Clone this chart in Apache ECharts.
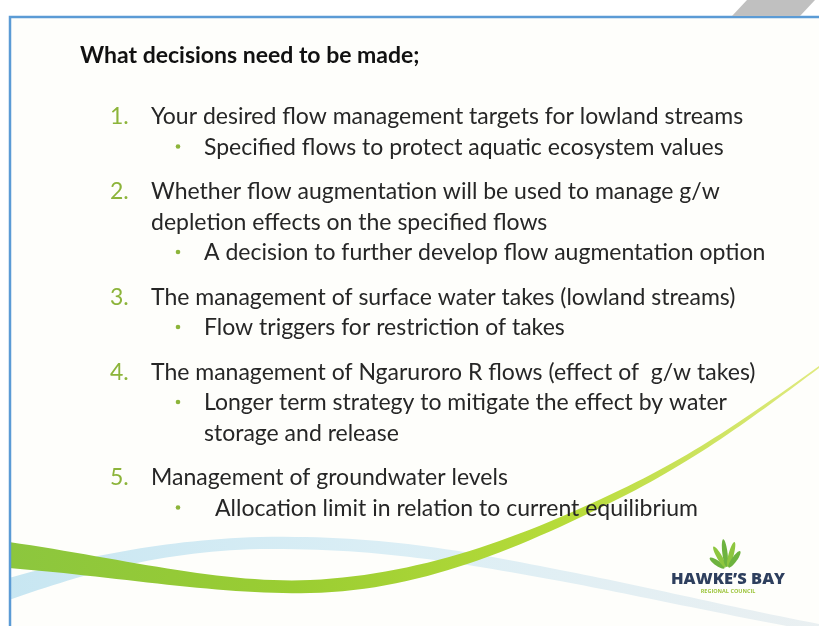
<!DOCTYPE html>
<html>
<head>
<meta charset="utf-8">
<script src="https://cdn.jsdelivr.net/npm/echarts@6/dist/echarts.min.js"></script>
<style>html,body{margin:0;padding:0;background:#fff}#c{width:819px;height:626px}</style>
</head>
<body>
<div id="c"></div>
<script>
// ---- slide content ----
const title = "What decisions need to be made;";
const numbers = ["1.", "2.", "3.", "4.", "5."];
const headings = [
  ["Your desired flow management targets for lowland streams"],
  ["Whether flow augmentation will be used to manage g/w", "depletion effects on the specified flows"],
  ["The management of surface water takes (lowland streams)"],
  ["The management of Ngaruroro R flows (effect of  g/w takes)"],
  ["Management of groundwater levels"]
];
const bullets = [
  ["Specified flows to protect aquatic ecosystem values"],
  ["A decision to further develop flow augmentation option"],
  ["Flow triggers for restriction of takes"],
  ["Longer term strategy to mitigate the effect by water", "storage and release"],
  ["\u00a0\u00a0Allocation limit in relation to current equilibrium"]
];
const logoName = "HAWKE\u2019S BAY";
const logoSub = "REGIONAL COUNCIL";

// ---- layout ----
const FONT = "Lato, 'Noto Sans', sans-serif";
const TEXT_COLOR = "#262626";
const GREEN = "#8CB43A";
const FS = 23;
const LINE = 30.5, GAP = 44.5;
const numX = 110, headX = 151, bulletX = 178, bulletTextX = 204;

function bez(start, segs, n) {
  const pts = [start];
  let p0 = start;
  segs.forEach(s => {
    const [c1, c2, p3] = s;
    for (let i = 1; i <= n; i++) {
      const t = i / n, u = 1 - t;
      pts.push([
        u*u*u*p0[0] + 3*u*u*t*c1[0] + 3*u*t*t*c2[0] + t*t*t*p3[0],
        u*u*u*p0[1] + 3*u*u*t*c1[1] + 3*u*t*t*c2[1] + t*t*t*p3[1]
      ]);
    }
    p0 = p3;
  });
  return pts;
}

const chart = echarts.init(document.getElementById('c'), null, {renderer: 'canvas'});
const g = [];

g.push({type: 'rect', shape: {x: 0, y: 0, width: 819, height: 626}, style: {fill: '#ffffff'}, silent: true});
g.push({type: 'rect', shape: {x: 10, y: 17, width: 809, height: 609}, style: {fill: '#fefefb'}, silent: true});

// blue swoosh
const blueTop = bez([9, 578], [[[80, 558], [160, 540], [260, 537]], [[380, 535], [460, 550], [560, 570]], [[640, 585], [720, 605], [819, 624]]], 30);
const blueBot = bez([819, 632], [[[720, 614], [640, 596], [560, 581]], [[460, 563], [380, 548], [260, 549]], [[160, 551], [80, 575], [9, 600]]], 30);
g.push({type: 'polygon', shape: {points: blueTop.concat(blueBot)},
  style: {fill: new echarts.graphic.LinearGradient(0, 0, 1, 0, [
    {offset: 0, color: 'rgba(190,226,240,0.85)'}, {offset: 0.5, color: 'rgba(205,232,243,0.7)'},
    {offset: 1, color: 'rgba(220,230,235,0.6)'}])}, silent: true});

// green swoosh
const greenTop = bez([9, 542], [[[120, 558], [220, 584], [310, 580]], [[420, 575], [520, 538], [620, 490]], [[700, 452], [760, 408], [819, 366]]], 30);
const greenBot = bez([819, 368], [[[760, 412], [700, 458], [620, 498]], [[520, 548], [420, 591], [310, 593]], [[220, 595], [120, 577], [9, 568]]], 30);
g.push({type: 'polygon', shape: {points: greenTop.concat(greenBot)},
  style: {fill: new echarts.graphic.LinearGradient(0, 0, 1, 0, [
    {offset: 0, color: '#8cc63e'}, {offset: 0.35, color: '#9acd32'},
    {offset: 0.7, color: '#b8dc3a'}, {offset: 1, color: '#e0ea80'}])}, silent: true});

// border
g.push({type: 'polyline', shape: {points: [[10, 626], [10, 17], [819, 17]]},
  style: {stroke: '#5b9bd5', lineWidth: 2.5, fill: null}, silent: true});
// grey corner tab
g.push({type: 'polygon', shape: {points: [[732, 16], [747, 0], [815, 0], [800, 16]]},
  style: {fill: '#c0c0c0'}, silent: true});

// title
g.push({type: 'text', x: 80, y: 56, style: {text: title, font: "bold 23px " + FONT,
  fill: '#111', textVerticalAlign: 'middle'}});

// list
let y = 117;
headings.forEach((lines, i) => {
  g.push({type: 'text', x: numX, y: y, style: {text: numbers[i], font: FS + "px " + FONT, fill: GREEN, textVerticalAlign: 'middle'}});
  lines.forEach(t => {
    g.push({type: 'text', x: headX, y: y, style: {text: t, font: FS + "px " + FONT, fill: TEXT_COLOR, textVerticalAlign: 'middle'}});
    y += LINE;
  });
  bullets[i].forEach((t, k) => {
    if (k === 0) g.push({type: 'circle', shape: {cx: bulletX, cy: y - 1, r: 2.3}, style: {fill: GREEN}});
    g.push({type: 'text', x: bulletTextX, y: y, style: {text: t, font: FS + "px " + FONT, fill: TEXT_COLOR, textVerticalAlign: 'middle'}});
    y += LINE;
  });
  y += GAP - LINE;
});

// logo leaves
const leafAngles = [-145, -120, -97, -75, -55];
const leafLens = [18, 24, 28, 26, 20];
leafAngles.forEach((a, i) => {
  const r = a * Math.PI / 180;
  const cx = 727, cy = 570;
  const L = leafLens[i];
  g.push({type: 'ellipse', x: cx + Math.cos(r) * (L / 2 + 3), y: cy + Math.sin(r) * (L / 2 + 3),
    rotation: -r, shape: {cx: 0, cy: 0, rx: L / 2, ry: 2.6},
    style: {fill: i % 2 ? '#8dc63f' : '#6db33f'}});
});
g.push({type: 'text', x: 728, y: 579, style: {text: logoName, font: "800 16.5px 'Open Sans', sans-serif",
  fill: '#2e3f5e', textAlign: 'center', textVerticalAlign: 'middle'}});
g.push({type: 'text', x: 728, y: 591, style: {text: logoSub, font: "bold 5.5px 'Open Sans', sans-serif",
  fill: '#9cc43a', textAlign: 'center', textVerticalAlign: 'middle'}});

chart.setOption({animation: false, graphic: {elements: g}});
</script>
</body>
</html>
